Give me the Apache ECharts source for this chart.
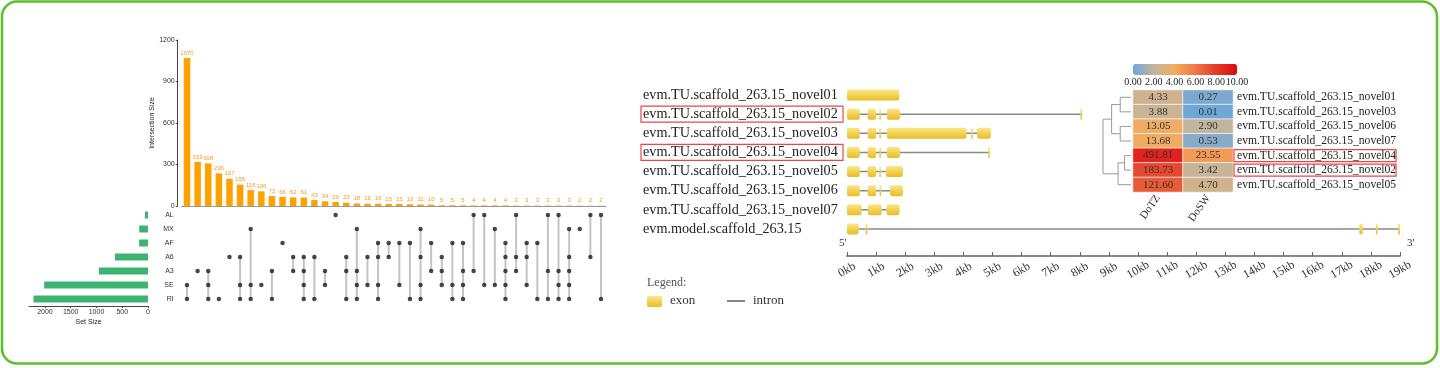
<!DOCTYPE html>
<html><head><meta charset="utf-8">
<script src="https://cdn.jsdelivr.net/npm/echarts@6/dist/echarts.min.js"></script>
<style>html,body{margin:0;padding:0;background:#fff}#c{width:1440px;height:368px}</style>
</head><body><div id="c"></div>
<script>
// ---------- UpSet data ----------
const intersectionSizes = [1070,319,308,236,197,155,115,106,72,66,62,61,43,34,29,23,18,16,16,15,15,13,11,10,5,5,5,4,4,4,4,3,3,3,3,3,3,2,2,2];
const setNames = ['AL','MX','AF','A6','A3','SE','RI'];
const setSizes = [58,170,172,642,954,2016,2223];
const intersectionSets = [
 ['SE','RI'],['A3'],['A3','SE','RI'],['RI'],['A6'],['A6','SE','RI'],['MX','SE','RI'],['SE'],['A3','RI'],['AF'],
 ['A6','A3'],['A6','A3','SE','RI'],['A6','RI'],['A3','SE'],['AL'],['A6','A3','RI'],['MX','A3','SE','RI'],['A6','SE'],['AF','A6','SE','RI'],['AF','A6'],
 ['AF','SE'],['AF','RI'],['MX','A6','SE','RI'],['AF','A3'],['A6','A3','SE'],['AF','SE','RI'],['AF','A3','SE','RI'],['AL','A3'],['AL','SE'],['MX','SE'],
 ['AF','A6','A3','SE','RI'],['AL','A6','A3'],['AF','A6','SE'],['AF','RI'],['AL','A3','RI'],['AL','A3','SE','RI'],['MX','A6','A3','SE','RI'],['MX'],['AL','A6'],['AL','RI']
];

// ---------- Gene structure data (kb) ----------
const geneNames = ['evm.TU.scaffold_263.15_novel01','evm.TU.scaffold_263.15_novel02','evm.TU.scaffold_263.15_novel03','evm.TU.scaffold_263.15_novel04','evm.TU.scaffold_263.15_novel05','evm.TU.scaffold_263.15_novel06','evm.TU.scaffold_263.15_novel07','evm.model.scaffold_263.15'];
const geneExons = [
 [[0,1.79]],
 [[0,0.44],[0.71,1.0],[1.11,1.16],[1.37,1.82],[8.02,8.08]],
 [[0,0.44],[0.71,1.0],[1.11,1.16],[1.37,4.11],[4.27,4.32],[4.47,4.94]],
 [[0,0.44],[0.71,1.0],[1.11,1.16],[1.37,1.82],[4.85,4.9]],
 [[0,0.44],[0.71,1.0],[1.11,1.16],[1.34,1.92]],
 [[0,0.44],[0.71,1.0],[1.12,1.17],[1.48,1.92]],
 [[0,0.5],[0.72,1.19],[1.36,1.8]],
 [[0,0.4],[0.64,0.7],[17.6,17.72],[18.17,18.23],[18.94,19.0]]
];
const highlightedGenes = [1,3];

// ---------- Heatmap data ----------
const heatCols = ['DoTZ','DoSW'];
const heatRows = ['evm.TU.scaffold_263.15_novel01','evm.TU.scaffold_263.15_novel03','evm.TU.scaffold_263.15_novel06','evm.TU.scaffold_263.15_novel07','evm.TU.scaffold_263.15_novel04','evm.TU.scaffold_263.15_novel02','evm.TU.scaffold_263.15_novel05'];
const dotzValues = [4.33,3.88,13.05,13.68,491.81,183.73,121.60];
const doswValues = [0.27,0.01,2.90,0.53,23.55,3.42,4.70];
const heatHighlighted = [4,5];
// dendrogram merges: [yLeft, yRight, hLeft, hRight, hJoin]
const dendroMerges = [[0,1,0,0,10],[2,3,0,0,10],[0.5,2.5,10,10,18],[4,5,0,0,6],[4.5,6,6,0,12],[1.5,5.25,18,12,26]];

// ---------- build ----------
const colCats = intersectionSizes.map((_, i) => 'c' + i);
const dots = [];
const connectors = [];
intersectionSets.forEach((s, ci) => {
  const rows = s.map(n => setNames.indexOf(n));
  rows.forEach(r => dots.push([ci, r]));
  connectors.push([ci, Math.min(...rows), Math.max(...rows)]);
});
const exonData = [], intronData = [];
geneExons.forEach((ex, gi) => {
  ex.forEach(e => exonData.push([e[0], e[1], gi]));
  if (ex.length > 1) intronData.push([ex[0][0], ex[ex.length-1][1], gi]);
});
const heatData = [];
heatRows.forEach((r, ri) => {
  heatData.push([0, ri, Math.log2(dotzValues[ri] + 1), dotzValues[ri]]);
  heatData.push([1, ri, Math.log2(doswValues[ri] + 1), doswValues[ri]]);
});

const SANS = 'Liberation Sans, Arial, sans-serif';
const SERIF = 'Liberation Serif, Times New Roman, serif';
const GL = 181.7, GW = 424.6;
const chart = echarts.init(document.getElementById('c'), null, {renderer: 'canvas'});

const exonGrad = new echarts.graphic.LinearGradient(0,0,0,1,[{offset:0,color:'#fbe689'},{offset:1,color:'#e8bd22'}]);

const option = {
  animation: false,
  backgroundColor: '#ffffff',
  grid: [
    {left: GL, top: 40, width: GW, height: 166},
    {left: GL, top: 208, width: GW, height: 98},
    {left: 29, top: 208, width: 119, height: 98},
    {left: 847, top: 85.5, width: 553, height: 153},
    {left: 1133, top: 90, width: 100, height: 102},
    {left: 1103, top: 90, width: 28, height: 102},
    {left: 1133, top: 75, width: 104, height: 1}
  ],
  xAxis: [
    {gridIndex: 0, type: 'category', data: colCats, axisLine: {lineStyle: {color: '#999', width: 1}}, axisTick: {show: false}, axisLabel: {show: false}},
    {gridIndex: 1, type: 'category', data: colCats, show: false},
    {gridIndex: 2, type: 'value', inverse: true, min: 0, max: 2310, interval: 500, splitLine: {show: false},
      axisLine: {show: true, lineStyle: {color: '#444'}}, axisTick: {show: true, length: 2, lineStyle: {color: '#444'}},
      axisLabel: {fontSize: 7, color: '#333', fontFamily: SANS, margin: 3, showMaxLabel: false, formatter: v => String(v)},
      name: 'Set Size', nameLocation: 'middle', nameGap: 13, nameTextStyle: {fontSize: 7, color: '#222', fontFamily: SANS}},
    {gridIndex: 3, type: 'value', min: 0, max: 19, interval: 1, position: 'bottom', offset: 17.5, splitLine: {show: false},
      axisLine: {show: true, lineStyle: {color: '#888', width: 2}}, axisTick: {show: true, inside: true, length: 4, lineStyle: {color: '#666'}},
      axisLabel: {rotate: 30, fontSize: 12, color: '#333', fontFamily: SERIF, margin: 14, align: 'center', verticalAlign: 'middle', formatter: v => v + 'kb'}},
    {gridIndex: 4, type: 'category', data: heatCols, axisLine: {show: false}, axisTick: {show: false},
      axisLabel: {rotate: 55, fontSize: 11, color: '#333', fontFamily: SERIF, margin: 4, interval: 0}},
    {gridIndex: 5, type: 'value', min: 0, max: 26, inverse: true, show: false},
    {gridIndex: 6, type: 'value', min: 0, max: 10, interval: 2, axisLine: {show: false}, axisTick: {show: false}, splitLine: {show: false},
      axisLabel: {fontSize: 10, color: '#222', fontFamily: SERIF, margin: 1, formatter: v => v.toFixed(2)}}
  ],
  yAxis: [
    {gridIndex: 0, type: 'value', min: 0, max: 1200, interval: 300, offset: 4, splitLine: {show: false},
      axisLine: {show: true, lineStyle: {color: '#444'}}, axisTick: {show: true, length: 2, lineStyle: {color: '#444'}},
      axisLabel: {fontSize: 7, color: '#333', fontFamily: SANS, margin: 3, formatter: v => String(v)},
      name: 'Intersection Size', nameLocation: 'middle', nameGap: 22, nameRotate: 90, nameTextStyle: {fontSize: 7, color: '#222', fontFamily: SANS}},
    {gridIndex: 1, type: 'category', data: setNames, inverse: true, axisLine: {show: false}, axisTick: {show: false},
      axisLabel: {fontSize: 7, color: '#333', fontFamily: SANS, margin: 8, interval: 0}},
    {gridIndex: 2, type: 'category', data: setNames, inverse: true, show: false},
    {gridIndex: 3, type: 'category', data: geneNames, inverse: true, axisLine: {show: false}, axisTick: {show: false},
      axisLabel: {align: 'left', margin: 204, fontSize: 14.2, color: '#222', fontFamily: SERIF, interval: 0}},
    {gridIndex: 4, type: 'category', data: heatRows, inverse: true, position: 'right', axisLine: {show: false}, axisTick: {show: false},
      axisLabel: {fontSize: 11.6, color: '#222', fontFamily: SERIF, margin: 4, interval: 0}},
    {gridIndex: 5, type: 'value', min: -0.5, max: 6.5, inverse: true, show: false},
    {gridIndex: 6, type: 'value', show: false}
  ],
  visualMap: [{
    type: 'continuous', seriesIndex: 7, dimension: 2, min: 0, max: 10, orient: 'horizontal',
    left: 1133, top: 64, itemWidth: 11, itemHeight: 104, padding: 0, calculable: false, text: ['', ''],
    hoverLink: false,
    inRange: {color: ['#6ea7d9', '#c3b59d', '#f4ab5f', '#ee7845', '#e43a28', '#dc0912']}
  }],
  series: [
    {type: 'bar', xAxisIndex: 0, yAxisIndex: 0, data: intersectionSizes, barWidth: 6.5,
      itemStyle: {color: '#ffa200'},
      label: {show: true, position: 'top', distance: 2, fontSize: 6, color: '#f39a1c', fontFamily: SANS}},
    {type: 'custom', xAxisIndex: 1, yAxisIndex: 1, data: connectors, z: 2,
      renderItem: (params, api) => {
        const p1 = api.coord([api.value(0), api.value(1)]);
        const p2 = api.coord([api.value(0), api.value(2)]);
        return {type: 'line', shape: {x1: p1[0], y1: p1[1], x2: p2[0], y2: p2[1]}, style: {stroke: '#c4c4c4', lineWidth: 2}};
      }},
    {type: 'scatter', xAxisIndex: 1, yAxisIndex: 1, data: dots, symbolSize: 4.5, itemStyle: {color: '#1a1a1a'}, z: 3},
    {type: 'bar', xAxisIndex: 2, yAxisIndex: 2, data: setSizes, barWidth: 7, itemStyle: {color: '#3cb371'}},
    {type: 'custom', xAxisIndex: 3, yAxisIndex: 3, data: intronData, z: 2,
      renderItem: (params, api) => {
        const p1 = api.coord([api.value(0), api.value(2)]);
        const p2 = api.coord([api.value(1), api.value(2)]);
        return {type: 'line', shape: {x1: p1[0], y1: p1[1], x2: p2[0], y2: p2[1]}, style: {stroke: '#8a8a8a', lineWidth: 1.6}};
      }},
    {type: 'custom', xAxisIndex: 3, yAxisIndex: 3, data: exonData, z: 3,
      renderItem: (params, api) => {
        const p1 = api.coord([api.value(0), api.value(2)]);
        const p2 = api.coord([api.value(1), api.value(2)]);
        const h = 11;
        return {type: 'rect', shape: {x: p1[0], y: p1[1] - h / 2, width: Math.max(p2[0] - p1[0], 1.5), height: h, r: 2},
          style: {fill: exonGrad}};
      }},
    {type: 'custom', xAxisIndex: 5, yAxisIndex: 5, data: dendroMerges,
      renderItem: (params, api) => {
        const a = api.coord([api.value(2), api.value(0)]);
        const b = api.coord([api.value(4), api.value(0)]);
        const c = api.coord([api.value(4), api.value(1)]);
        const d = api.coord([api.value(3), api.value(1)]);
        return {type: 'polyline', shape: {points: [a, b, c, d]}, style: {stroke: '#9a9a9a', lineWidth: 1, fill: null}};
      }},
    {type: 'heatmap', xAxisIndex: 4, yAxisIndex: 4, data: heatData,
      itemStyle: {borderColor: 'rgba(255,255,255,0.7)', borderWidth: 1},
      label: {show: true, fontSize: 11, color: '#333', fontFamily: SERIF, formatter: p => p.data[3].toFixed(2)}}
  ],
  graphic: [
    {type: 'rect', shape: {x: 2, y: 1.5, width: 1435, height: 362, r: 15}, style: {fill: 'none', stroke: '#5dbf2c', lineWidth: 2.5}, z: 100},
    ...highlightedGenes.map(gi => ({type: 'rect', shape: {x: 641, y: 85.5 + 19.125 * gi + 9.56 - 8, width: 202, height: 16}, style: {fill: 'none', stroke: '#e8474a', lineWidth: 1.2}, z: 50})),
    ...heatHighlighted.map(ri => ({type: 'rect', shape: {x: 1234, y: 90 + 102 / 7 * (ri + 0.5) - 6, width: 162, height: 12}, style: {fill: 'none', stroke: '#e8474a', lineWidth: 1.2}, z: 50})),
    {type: 'text', left: 839, top: 238, style: {text: "5'", font: '11px ' + SERIF, fill: '#333'}},
    {type: 'text', left: 1407, top: 238, style: {text: "3'", font: '11px ' + SERIF, fill: '#333'}},
    {type: 'text', left: 647, top: 277, style: {text: 'Legend:', font: '12px ' + SERIF, fill: '#555'}},
    {type: 'rect', shape: {x: 647, y: 296, width: 15, height: 11, r: 2}, style: {fill: exonGrad}},
    {type: 'text', left: 670, top: 294, style: {text: 'exon', font: '13px ' + SERIF, fill: '#333'}},
    {type: 'line', shape: {x1: 727, y1: 301, x2: 745, y2: 301}, style: {stroke: '#444', lineWidth: 1.3}},
    {type: 'text', left: 753, top: 294, style: {text: 'intron', font: '13px ' + SERIF, fill: '#333'}}
  ]
};
chart.setOption(option);
</script></body></html>
